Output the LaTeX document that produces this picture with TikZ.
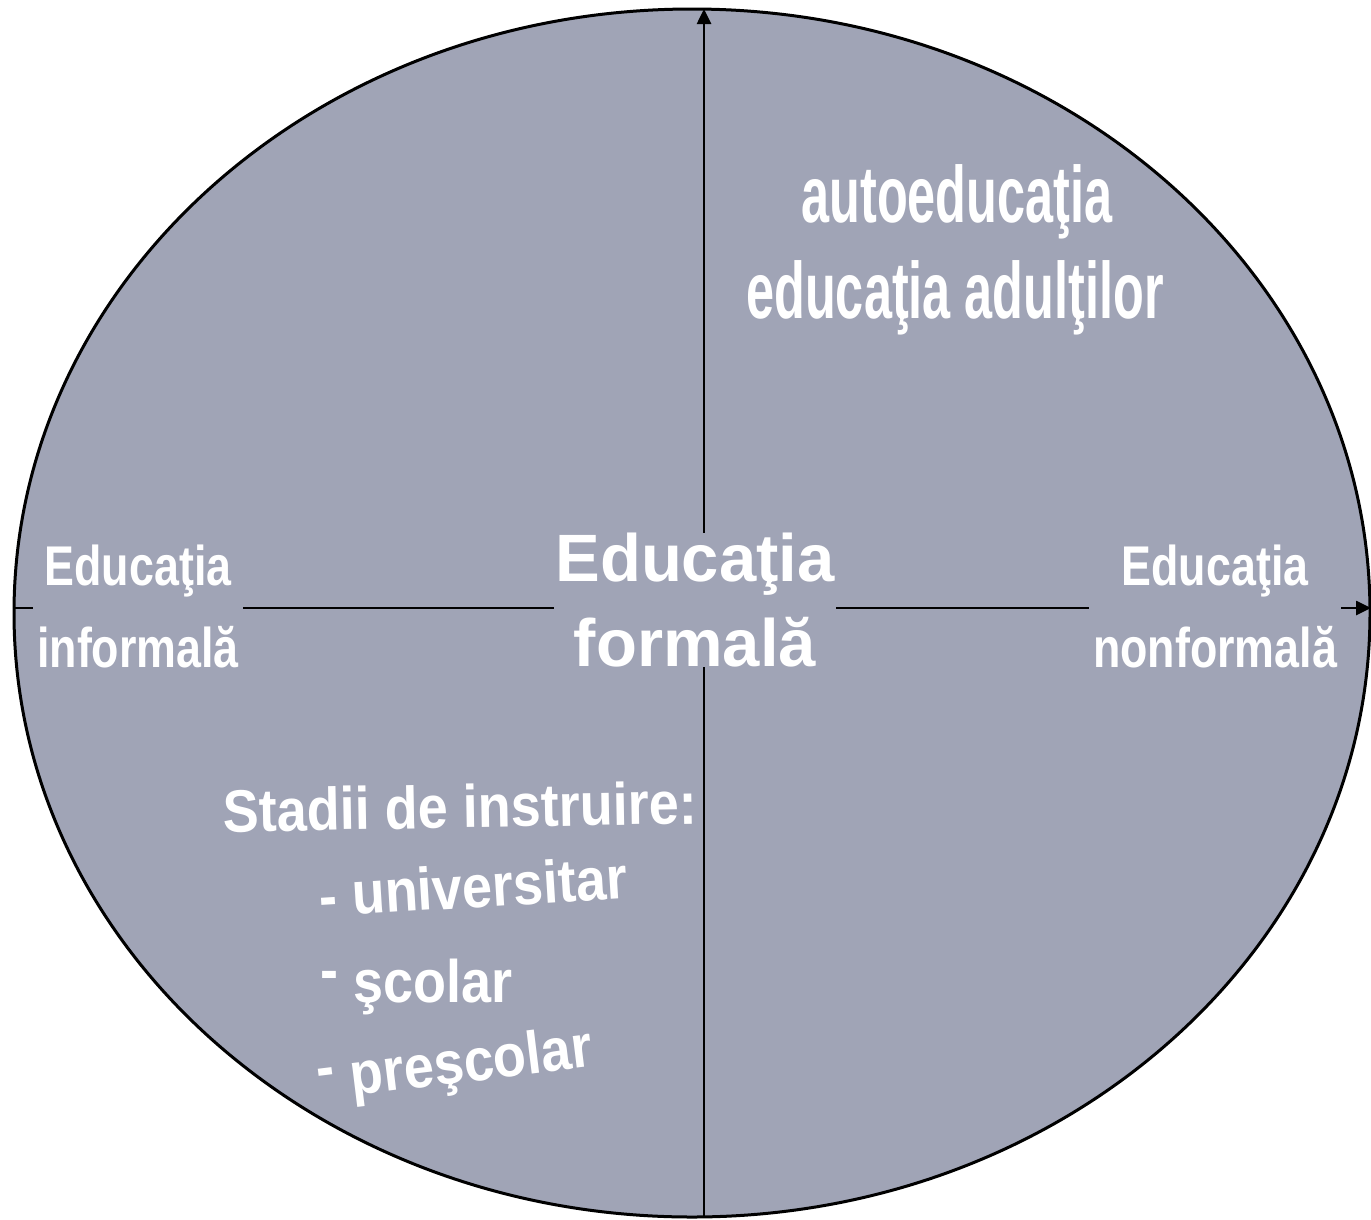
\documentclass[tikz,border=0pt]{standalone}
\usepackage{fontspec}
\usetikzlibrary{arrows.meta}
\newfontfamily\fArial{Liberation Sans}
\newfontfamily\fNarrow[FakeStretch=0.8]{Liberation Sans}
\newfontfamily\fTight[FakeStretch=0.63]{Liberation Sans}
\newfontfamily\fStad[FakeStretch=0.9]{Liberation Sans}
\newcommand\adultfont{\fTight\bfseries\fontsize{80}{90}\selectfont}
\definecolor{bg}{RGB}{160,164,182}
\tikzset{
  axisline/.style={line width=2.6pt, black},
  axisarrow/.style={axisline, -{Triangle[length=15pt,width=14pt]}},
  lbl/.style={text=white, fill=bg, inner xsep=4pt, inner ysep=0pt, align=center},
  free/.style={text=white, inner sep=0pt},
}
\begin{document}
\begin{tikzpicture}[x=1pt,y=-1pt]
\useasboundingbox (0,0) rectangle (1371,1219);
\draw[fill=bg, line width=3pt] (692,613) ellipse [x radius=678pt, y radius=604pt];
\coordinate (S) at (704,1217);
\coordinate (N) at (704,9);
\coordinate (W) at (14,608);
\coordinate (E) at (1371,608);
\draw[axisline] (S) -- (704,600);
\draw[axisarrow] (704,600) -- (N);
\draw[axisline] (W) -- (704,608);
\draw[axisarrow] (704,608) -- (E);
% main labels
\node[lbl, font=\fArial\bfseries\fontsize{67}{85}\selectfont, inner xsep=1pt] (formal) at (695,600) {Educaţia\\formală};
\node[lbl, font=\fNarrow\bfseries\fontsize{56}{82}\selectfont] (informal) at (138,606) {Educaţia\\informală};
\node[lbl, font=\fNarrow\bfseries\fontsize{56}{82}\selectfont] (nonformal) at (1215,606) {Educaţia\\nonformală};
% top right
\node[free, anchor=base, font=\adultfont] (auto) at (957,222) {autoeducaţia};
\node[free, anchor=base, font=\adultfont] (adult) at (955,318) {educaţia adulţilor};
% bottom left
\node[free, anchor=base west, rotate=1, font=\fStad\bfseries\fontsize{60}{70}\selectfont] (stadii) at (223,832) {Stadii de instruire:};
\node[free, anchor=base west, rotate=3.5, font=\fStad\bfseries\fontsize{60}{70}\selectfont] (univ) at (320,917) {- universitar};
\node[free, anchor=base west, font=\fStad\bfseries\fontsize{60}{70}\selectfont] (scolar) at (320,1002) {\raisebox{12pt}{-} şcolar};
\node[free, anchor=base west, rotate=7, font=\fStad\bfseries\fontsize{60}{70}\selectfont] (prescolar) at (320,1100) {\raisebox{12pt}{-} preşcolar};
\end{tikzpicture}
\end{document}
